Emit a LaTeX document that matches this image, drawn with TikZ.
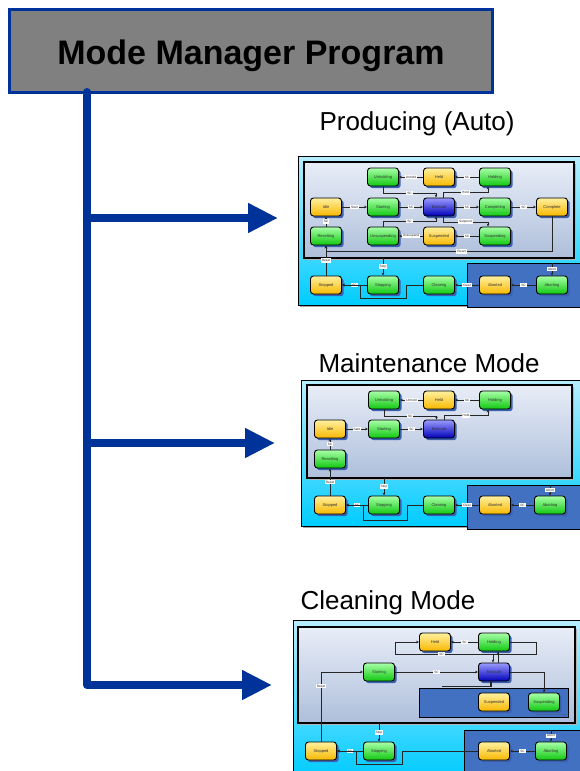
\documentclass[tikz,border=0pt]{standalone}
\usepackage{fontspec}
\setmainfont{Liberation Sans}
\usetikzlibrary{arrows.meta,shadows}

\definecolor{navy}{HTML}{003399}
\definecolor{titlegray}{HTML}{808080}
\definecolor{shadowblue}{HTML}{3A5FB0}
\definecolor{darkzone}{HTML}{4271C2}
\definecolor{linegray}{HTML}{262626}
\definecolor{panelTop}{HTML}{E8EDF7}
\definecolor{panelBot}{HTML}{AEBFDB}
\definecolor{frameTop}{HTML}{B8EEFF}
\definecolor{frameMid}{HTML}{22D2FF}
\definecolor{frameBot}{HTML}{00CCFF}
\definecolor{greenTop}{HTML}{A8FFA8}
\definecolor{greenMid}{HTML}{22EE22}
\definecolor{greenBot}{HTML}{10C810}
\definecolor{yellowTop}{HTML}{FFF0A0}
\definecolor{yellowMid}{HTML}{FFD21E}
\definecolor{yellowBot}{HTML}{F8B800}
\definecolor{blueTop}{HTML}{9A9AFF}
\definecolor{blueMid}{HTML}{2020F0}
\definecolor{blueBot}{HTML}{0000B8}

\tikzset{
  stbox/.style={rounded corners=3pt, draw=black, line width=0.9pt,
    minimum width=31pt, minimum height=18pt, inner sep=0pt,
    font=\fontsize{4}{4.5}\selectfont, text=black!80,
    drop shadow={shadow xshift=2.2pt, shadow yshift=-2.2pt, fill=shadowblue, opacity=1}},
  gbox/.style={stbox, top color=greenTop, middle color=greenMid, bottom color=greenBot},
  ybox/.style={stbox, top color=yellowTop, middle color=yellowMid, bottom color=yellowBot},
  bbox/.style={stbox, top color=blueTop, middle color=blueMid, bottom color=blueBot},
  tr/.style={draw=linegray, line width=0.8pt, -{Stealth[length=3pt,width=2.6pt]}},
  tp/.style={draw=linegray, line width=0.8pt},
  tl/.style={fill=white, inner sep=1pt, text=black!85,
    font=\fontsize{3.2}{3.4}\selectfont},
  frame/.style={draw=black, line width=0.9pt, top color=frameTop, middle color=frameMid, bottom color=frameBot,
    drop shadow={shadow xshift=2pt, shadow yshift=-2pt, fill=gray!70, opacity=1}},
  panel/.style={draw=black, line width=1.4pt, top color=panelTop, bottom color=panelBot,
    drop shadow={shadow xshift=1.5pt, shadow yshift=-1.5pt, fill=gray!60, opacity=1}},
  zone/.style={draw=black, line width=1pt, fill=darkzone},
  bigarrow/.style={draw=navy, line width=8pt, -{Triangle[length=30pt,width=28pt]}},
  modetitle/.style={font=\fontsize{26}{30}\selectfont, anchor=west},
}

\begin{document}
\begin{tikzpicture}[x=1pt,y=-1pt]
\useasboundingbox (0,0) rectangle (579,771);
\fill[white] (0,0) rectangle (579,771);

% ---------- title and trunk ----------
\node[draw=navy, line width=3pt, fill=titlegray, minimum width=483pt, minimum height=83pt] (mmp) at (250.5,50.5) {};
\node[font=\fontsize{34}{40}\selectfont\bfseries, anchor=base] (mmpText) at (251,64) {Mode Manager Program};
\coordinate (trunkTop) at (87,92);
\coordinate (trunkBot) at (87,685);
\draw[navy, line width=8pt, line cap=round] (trunkTop) -- (trunkBot);

\node[modetitle] (tA) at (316,124) {Producing (Auto)};
\node[modetitle] (tB) at (315,363) {Maintenance Mode};
\node[modetitle] (tC) at (297,603) {Cleaning Mode};

% ---------- Producing (Auto) ----------
\begin{scope}[shift={(295,150)}]
  \path[frame] (3,6) rectangle (292,155);
  \path[zone] (172,113) rectangle (292,157);
  \path[panel] (9,12) rectangle (279,108);

  \node[gbox] (UnholdingA) at (88,27) {Unholding};
  \node[ybox] (HeldA) at (144,27) {Held};
  \node[gbox] (HoldingA) at (200,27) {Holding};
  \node[ybox] (IdleA) at (31,57) {Idle};
  \node[gbox] (StartingA) at (88,57) {Starting};
  \node[bbox] (ExecuteA) at (144,57) {Execute};
  \node[gbox] (CompletingA) at (200,57) {Completing};
  \node[ybox] (CompleteA) at (257,57) {Complete};
  \node[gbox] (ResettingA) at (31,86) {Resetting};
  \node[gbox] (UnsuspendingA) at (88,86) {Unsuspending};
  \node[ybox] (SuspendedA) at (144,86) {Suspended};
  \node[gbox] (SuspendingA) at (200,86) {Suspending};
  \node[ybox] (StoppedA) at (31,135) {Stopped};
  \node[gbox] (StoppingA) at (88,135) {Stopping};
  \node[gbox] (ClearingA) at (144,135) {Clearing};
  \node[ybox] (AbortedA) at (200,135) {Aborted};
  \node[gbox] (AbortingA) at (257,135) {Aborting};

  \draw[tr] (HeldA) -- node[tl]{Unhold} (UnholdingA);
  \draw[tr] (HoldingA) -- node[tl]{SC} (HeldA);
  \draw[tr] (UnholdingA.south) -- ++(0,6.5) -| node[tl,pos=0.25]{SC} ([xshift=-3pt]ExecuteA.north);
  \draw[tr] ([xshift=4pt]ExecuteA.north) -- ++(0,-5.2) -| node[tl,pos=0.25]{Hold} ([xshift=-7pt]HoldingA.south);
  \draw[tr] (IdleA) -- node[tl]{Start} (StartingA);
  \draw[tr] (StartingA) -- node[tl]{SC} (ExecuteA);
  \draw[tr] (ExecuteA) -- node[tl]{SC} (CompletingA);
  \draw[tr] (CompletingA) -- node[tl]{SC} (CompleteA);
  \draw[tr] (ResettingA) -- node[tl]{SC} (IdleA);
  \draw[tr] ([xshift=4pt]ExecuteA.south) -- ++(0,5.5) -| node[tl,pos=0.25]{Suspend} ([xshift=-7pt]SuspendingA.north);
  \draw[tr] (UnsuspendingA.north) -- ++(0,-5.2) -| node[tl,pos=0.25]{SC} ([xshift=-3pt]ExecuteA.south);
  \draw[tr] (SuspendedA) -- node[tl]{Unsuspend} (UnsuspendingA);
  \draw[tr] (SuspendingA) -- node[tl]{SC} (SuspendedA);
  \draw[tr] (CompleteA.south) -- ++(0,35) -| node[tl,pos=0.2]{Reset} (ResettingA.south);
  \draw[tr] (StoppedA) -- node[tl]{Reset} (ResettingA);
  \coordinate (stopA) at (88,108);
  \draw[tr] (stopA) -- node[tl]{Stop} (StoppingA.north);
  \draw[tr] (StoppingA) -- node[tl]{SC} (StoppedA);
  \draw[tr] (ClearingA.west) -- ++(-16.5,0) -- ++(0,13) -- ++(-46,0) -- ++(0,-13) -- (StoppedA.east);
  \draw[tr] (AbortedA) -- node[tl]{Clear} (ClearingA);
  \draw[tr] (AbortingA) -- node[tl]{SC} (AbortedA);
  \coordinate (abortA) at (257,113);
  \draw[tr] (abortA) -- node[tl]{Abort} (AbortingA.north);
\end{scope}

% ---------- Maintenance Mode ----------
\begin{scope}[shift={(295,375)}]
  \path[frame] (6,5) rectangle (292,151);
  \path[zone] (172,110) rectangle (292,154);
  \path[panel] (12,10) rectangle (277,103);

  \node[gbox] (UnholdingB) at (89,25) {Unholding};
  \node[ybox] (HeldB) at (144,25) {Held};
  \node[gbox] (HoldingB) at (200,25) {Holding};
  \node[ybox] (IdleB) at (35,54) {Idle};
  \node[gbox] (StartingB) at (89,54) {Starting};
  \node[bbox] (ExecuteB) at (144,54) {Execute};
  \node[gbox] (ResettingB) at (35,84) {Resetting};
  \node[ybox] (StoppedB) at (35,130) {Stopped};
  \node[gbox] (StoppingB) at (89,130) {Stopping};
  \node[gbox] (ClearingB) at (144,130) {Clearing};
  \node[ybox] (AbortedB) at (200,130) {Aborted};
  \node[gbox] (AbortingB) at (255,130) {Aborting};

  \draw[tr] (HeldB) -- node[tl]{Unhold} (UnholdingB);
  \draw[tr] (HoldingB) -- node[tl]{SC} (HeldB);
  \draw[tr] (UnholdingB.south) -- ++(0,6.5) -| node[tl,pos=0.25]{SC} ([xshift=-2.5pt]ExecuteB.north);
  \draw[tr] ([xshift=5pt]ExecuteB.north) -- ++(0,-4.2) -| node[tl,pos=0.25]{Hold} ([xshift=-7pt]HoldingB.south);
  \draw[tr] (IdleB) -- node[tl]{Start} (StartingB);
  \draw[tr] (StartingB) -- node[tl]{SC} (ExecuteB);
  \draw[tr] (ResettingB) -- node[tl]{SC} (IdleB);
  \draw[tr] (StoppedB) -- node[tl]{Reset} (ResettingB);
  \coordinate (stopB) at (89,103);
  \draw[tr] (stopB) -- node[tl]{Stop} (StoppingB.north);
  \draw[tr] (StoppingB) -- node[tl]{SC} (StoppedB);
  \draw[tr] (ClearingB.west) -- ++(-16,0) -- ++(0,15) -- ++(-44,0) -- ++(0,-15) -- (StoppedB.east);
  \draw[tr] (AbortedB) -- node[tl]{Clear} (ClearingB);
  \draw[tr] (AbortingB) -- node[tl]{SC} (AbortedB);
  \coordinate (abortB) at (255,110);
  \draw[tr] (abortB) -- node[tl]{Abort} (AbortingB.north);
\end{scope}

% ---------- Cleaning Mode ----------
\begin{scope}[shift={(290,615)}]
  \path[frame] (3,5) rectangle (297,162);
  \path[zone] (174,115) rectangle (297,162);
  \path[panel] (8,12) rectangle (285,108);
  \path[zone] (129,73) rectangle (278,102);
  \node[font=\fontsize{1.8}{2}\selectfont, text=black!70, anchor=south east, inner sep=0.6pt]
    (noteC) at (277,102) {Suspend states not used in this mode};

  \node[ybox] (HeldC) at (145,27) {Held};
  \node[gbox] (HoldingC) at (204,27) {Holding};
  \node[gbox] (StartingC) at (89,57) {Starting};
  \node[bbox] (ExecuteC) at (204,57) {Execute};
  \node[ybox] (SuspendedC) at (204,87) {Suspended};
  \node[gbox] (SuspendingC) at (254,87) {Suspending};
  \node[ybox] (StoppedC) at (31,136) {Stopped};
  \node[gbox] (StoppingC) at (89,136) {Stopping};
  \node[ybox] (AbortedC) at (204,136) {Aborted};
  \node[gbox] (AbortingC) at (261,136) {Aborting};

  \draw[tr] (HoldingC) -- node[tl]{SC} (HeldC);
  \draw[tr] (HoldingC.east) -- ++(26,0) -- ++(0,12) -- node[tl,pos=0.67]{SC} ++(-141,0) -- ++(0,-12) -- (HeldC.west);
  \draw[tr] ([shift={(-1,-8.85)}]ExecuteC.north) -- ([xshift=-1pt]ExecuteC.north);
  \draw[tr] ([xshift=4pt]ExecuteC.north) -- ([xshift=4pt]HoldingC.south);
  \draw[tr] (StartingC) -- node[tl]{SC} (ExecuteC);
  \draw[tr] (StoppedC.north) |- node[tl,pos=0.4]{Reset} (StartingC.west);
  \draw[tp, line width=1.2pt] ([xshift=-3pt]ExecuteC.south) -- ++(0,5) -- ++(-49,0);
  \draw[tr] (ExecuteC.east) -| (SuspendingC.north);
  \coordinate (stopC) at (89,108);
  \draw[tr] (stopC) -- node[tl]{Stop} (StoppingC.north);
  \draw[tr] (StoppingC) -- node[tl]{SC} (StoppedC);
  \draw[tr] (AbortedC.west) -- ++(-76,0) -- ++(0,13) -- ++(-46,0) -- ++(0,-13) -- (StoppedC.east);
  \draw[tr] (AbortingC) -- node[tl]{SC} (AbortedC);
  \coordinate (abortC) at (261,115);
  \draw[tr] (abortC) -- node[tl]{Abort} (AbortingC.north);
\end{scope}

% ---------- branches to the three modes ----------
\coordinate (brA) at (87,218);
\coordinate (brB) at (87,443);
\coordinate (brC) at (87,685);
\coordinate (tipA) at (278,218);
\coordinate (tipB) at (275,443);
\coordinate (tipC) at (272,685);
\draw[bigarrow] (brA) -- (tipA);
\draw[bigarrow] (brB) -- (tipB);
\draw[bigarrow] (brC) -- (tipC);
\end{tikzpicture}
\end{document}
